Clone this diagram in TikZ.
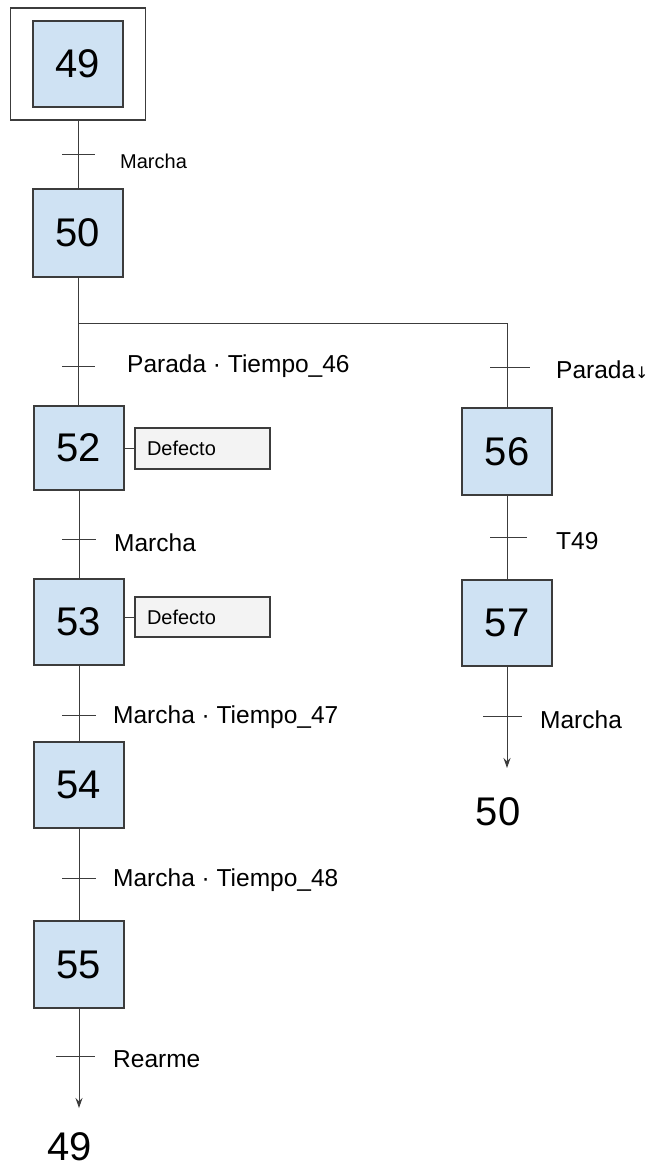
\documentclass[tikz,border=0pt]{standalone}
\usepackage{fontspec}
\setmainfont{Liberation Sans}
\newfontfamily\symfont{DejaVu Sans}
\usetikzlibrary{arrows.meta}
\definecolor{stepfill}{HTML}{CFE2F3}
\definecolor{actfill}{HTML}{F3F3F3}
\definecolor{linecol}{HTML}{3C3C3C}
\tikzset{
  stepbox/.style={draw=linecol, line width=1.2pt, fill=stepfill, minimum width=90pt,
    minimum height=86pt, inner sep=0pt, font=\fontsize{40}{40}\selectfont},
  initframe/.style={draw=linecol, line width=1.2pt, minimum width=135pt, minimum height=112pt, inner sep=0pt},
  actbox/.style={draw=linecol, line width=1.2pt, fill=actfill, minimum height=41pt,
    text width=111pt, inner xsep=12pt, align=left, font=\fontsize{20}{20}\selectfont},
  flow/.style={draw=linecol, line width=1pt},
  tick/.style={draw=linecol, line width=1pt},
  cond/.style={anchor=west, inner sep=0pt, font=\fontsize{24.5}{24.5}\selectfont},
  target/.style={anchor=base, inner sep=0pt, text depth=0pt, font=\fontsize{40}{40}\selectfont},
  tip/.style={-{Stealth[length=10pt,width=7pt]}}
}
\begin{document}
\begin{tikzpicture}[x=1pt,y=-1pt]
\useasboundingbox (0,0) rectangle (649,1169);

% initial step with its double frame
\node[initframe] (f49) at (78,64) {};
\node[stepbox] (s49) at (78,64) {49};

% left branch
\node[stepbox, minimum height=88pt] (s50) at (78,233) {50};
\node[stepbox, minimum height=84pt] (s52) at (79,448) {52};
\node[stepbox] (s53) at (79,622) {53};
\node[stepbox] (s54) at (79,785) {54};
\node[stepbox, minimum height=87pt] (s55) at (79,964.5) {55};

% right branch
\node[stepbox, minimum height=87pt] (s56) at (507,451.5) {56};
\node[stepbox] (s57) at (507,623) {57};

% actions
\node[actbox] (a52) at (202.5,448.5) {Defecto};
\node[actbox, minimum height=40pt] (a53) at (202.5,617) {Defecto};
\draw[flow] (s52.east |- a52.west) -- (a52.west);
\draw[flow] (s53.east |- a53.west) -- (a53.west);

% divergence
\coordinate (dl) at (78,323);
\coordinate (dr) at (507,323);

% links
\draw[flow] (f49.south) -- (s50.north);
\draw[flow] (s50.south) -- (dl) -- (dr) -- (s56.north);
\draw[flow] (dl) -- (s52.north -| dl);
\draw[flow] (s52.south) -- (s53.north);
\draw[flow] (s53.south) -- (s54.north);
\draw[flow] (s54.south) -- (s55.north);
\coordinate (e55) at (79,1108);
\draw[flow, tip] (s55.south) -- (e55);
\draw[flow] (s56.south) -- (s57.north);
\coordinate (e57) at (507,768);
\draw[flow, tip] (s57.south) -- (e57);

% jump targets
\node[target] (t49) at (70,1160) {49};
\node[target] (t50) at (498,825) {50};

% transition bars
\draw[tick] (62,155) -- (95,155);
\draw[tick] (62,366) -- (95,366);
\draw[tick] (490,367) -- (530,367);
\draw[tick] (62,539) -- (96,539);
\draw[tick] (490,537) -- (527,537);
\draw[tick] (62,715) -- (96,715);
\draw[tick] (483,716) -- (522,716);
\draw[tick] (62,878) -- (96,878);
\draw[tick] (56,1056) -- (95,1056);

% transition conditions
\node[cond, font=\fontsize{20}{20}\selectfont] (c1) at (120,161) {Marcha};
\node[cond] (c2) at (127,366) {Parada · Tiempo\_46};
\node[cond] (c3) at (556,370) {Parada{\symfont\fontsize{16}{16}\selectfont ↓}};
\node[cond] (c4) at (114,543) {Marcha};
\node[cond] (c5) at (556,541) {T49};
\node[cond] (c6) at (113,717) {Marcha · Tiempo\_47};
\node[cond] (c7) at (540,720) {Marcha};
\node[cond] (c8) at (113,880) {Marcha · Tiempo\_48};
\node[cond] (c9) at (113,1059) {Rearme};
\end{tikzpicture}
\end{document}
